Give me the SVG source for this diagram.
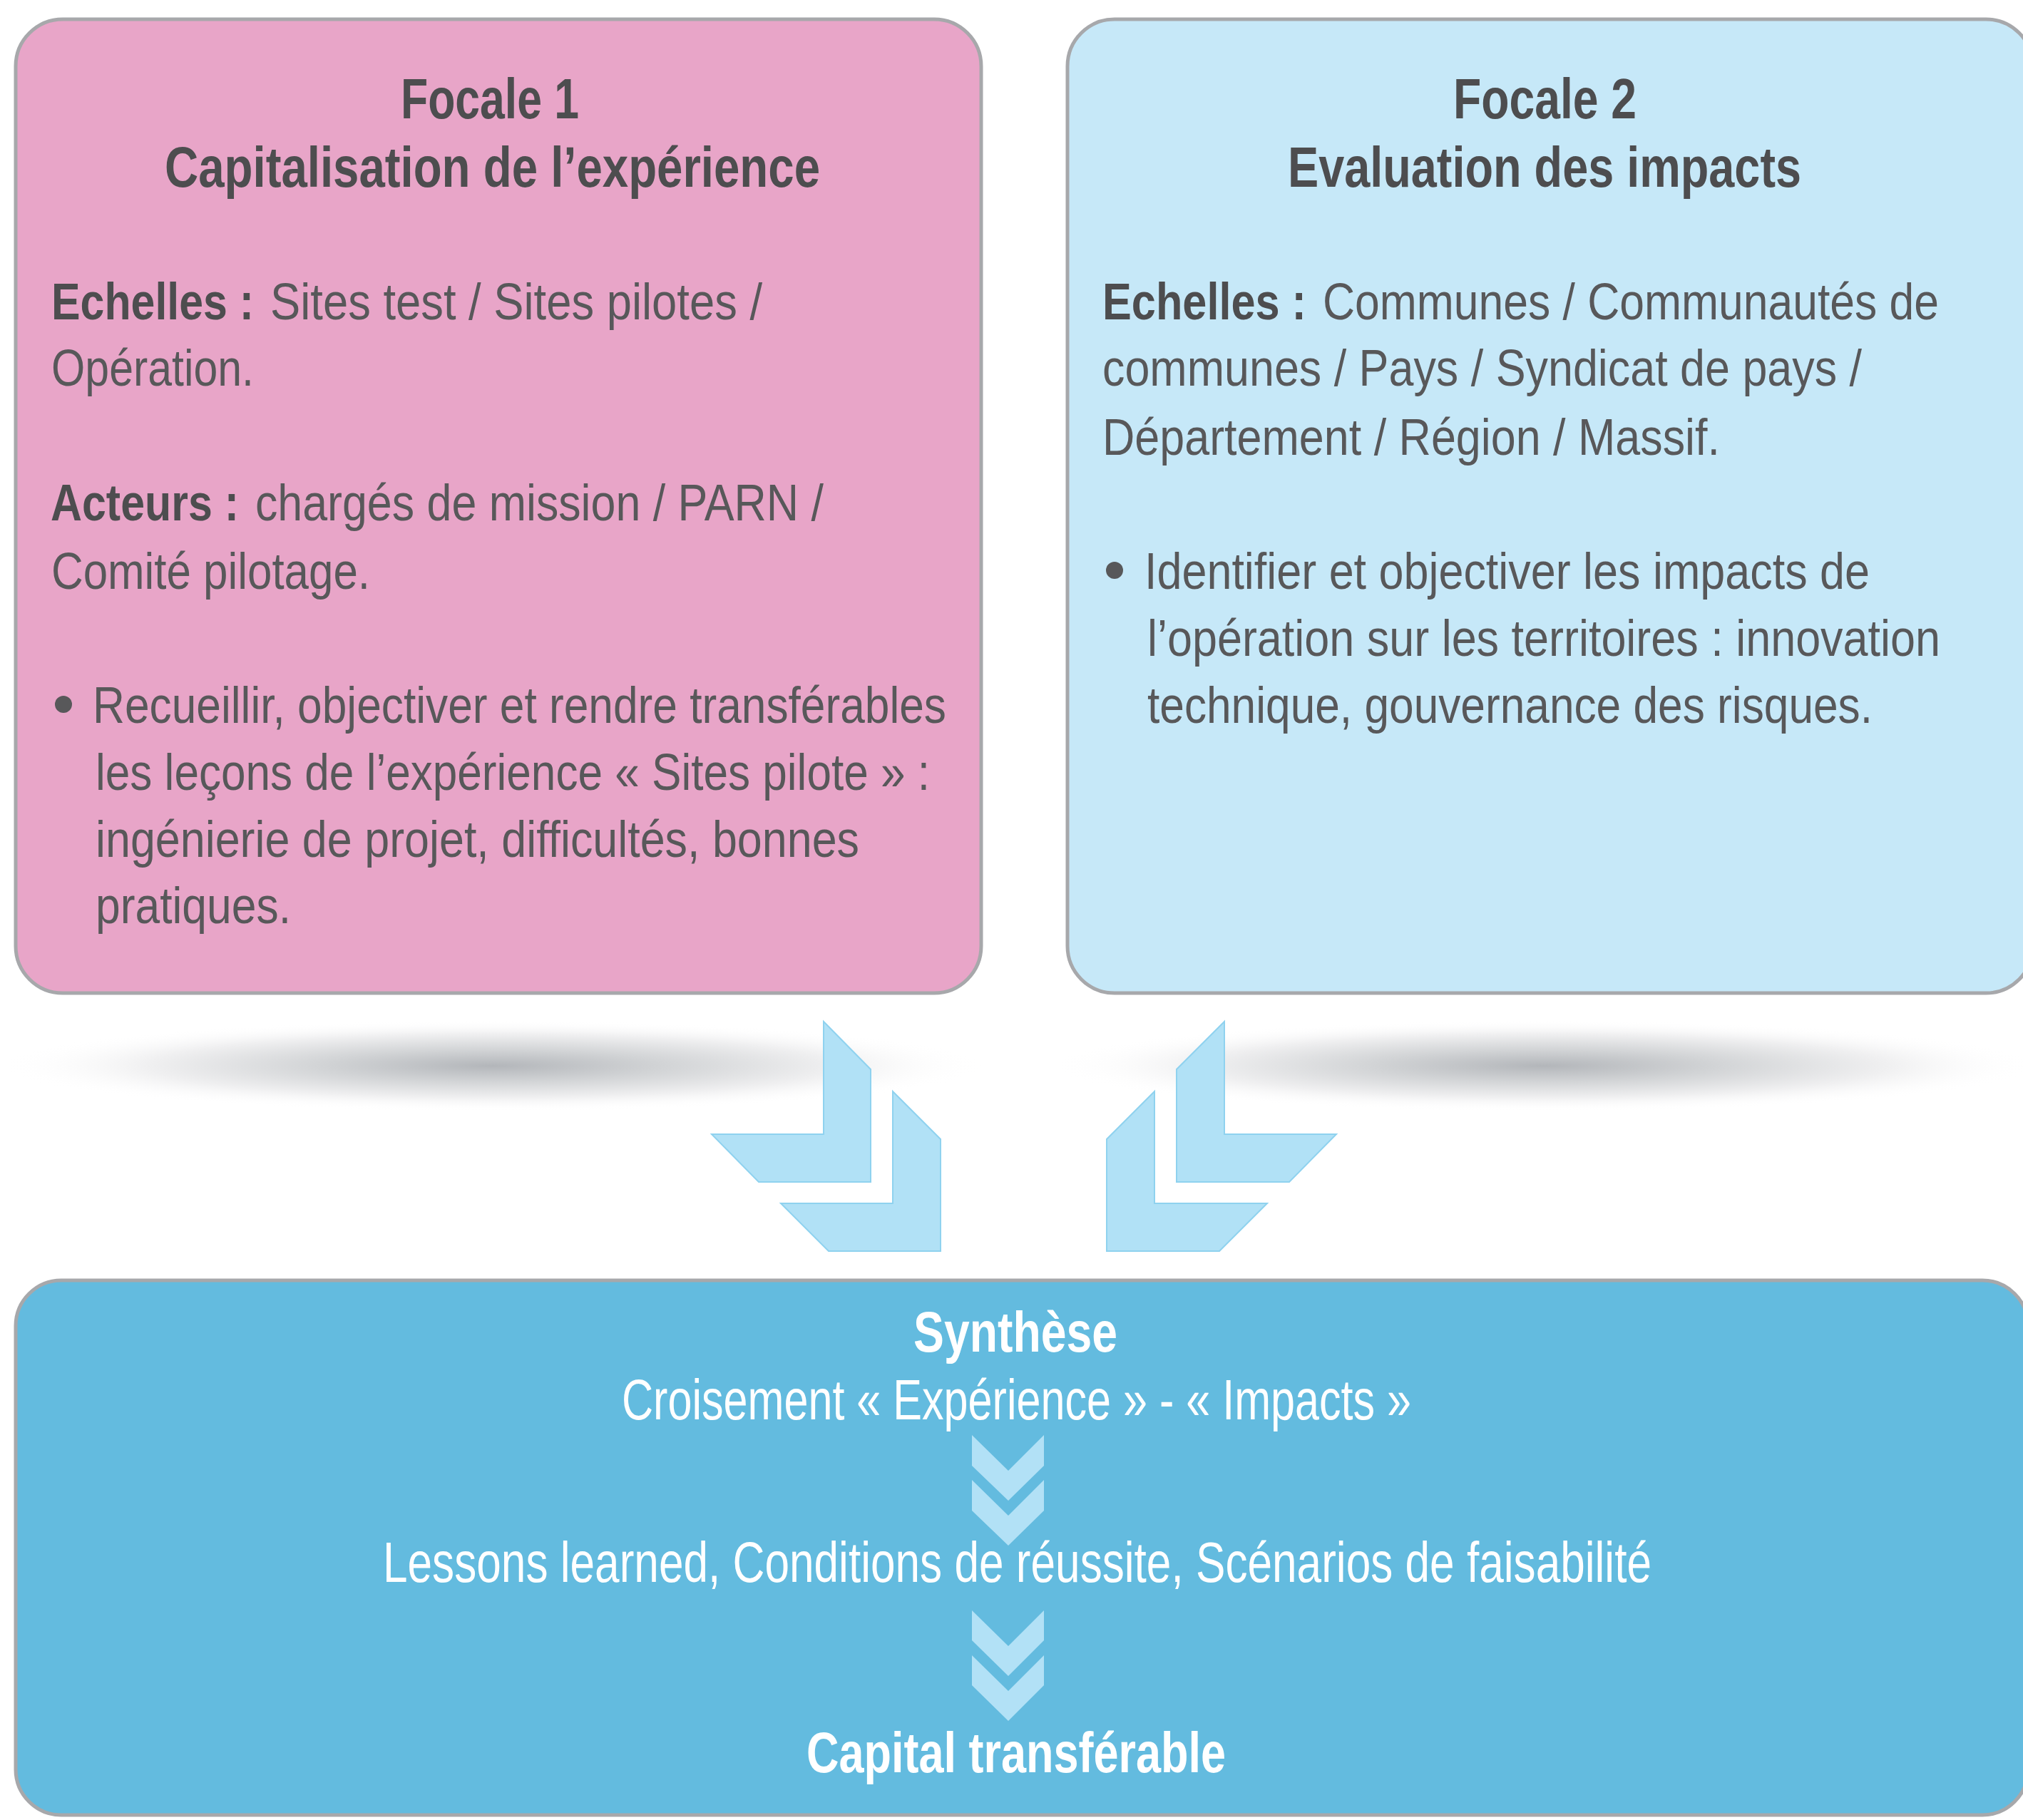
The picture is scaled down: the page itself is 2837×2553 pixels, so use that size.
<svg xmlns="http://www.w3.org/2000/svg" width="2837" height="2553" viewBox="0 0 2837 2553">
<style>
.box{stroke:#a7a8ab;stroke-width:5}
.t{font-family:"Liberation Sans Narrow","Liberation Sans",Arial,sans-serif;fill:#58585a;font-size:73px}
.b{font-weight:bold;fill:#4d4d4f}
.h{font-size:80px}
.w{fill:#ffffff;font-size:80px}
.arrow{fill:#b1e1f6;stroke:#8fd2ef;stroke-width:2}
.chev{fill:#b2e1f6}
</style>
<defs>
<radialGradient id="sh" cx="0.5" cy="0.5" r="0.5">
<stop offset="0" stop-color="#b3b6ba"/>
<stop offset="0.35" stop-color="#d2d4d6"/>
<stop offset="0.7" stop-color="#f0f0f1"/>
<stop offset="1" stop-color="#ffffff" stop-opacity="0"/>
</radialGradient>
</defs>
<rect width="2837" height="2553" fill="#ffffff"/>
<g id="shadows">
<ellipse cx="690" cy="1495" rx="690" ry="64" fill="url(#sh)"/>
<ellipse cx="2165" cy="1495" rx="690" ry="64" fill="url(#sh)"/>
</g>
<g id="focale1">
<rect class="box" x="22" y="27" width="1354" height="1366" rx="66" fill="#e8a5c8"/>
<text class="t b h" x="562" y="166" textLength="250" lengthAdjust="spacingAndGlyphs">Focale 1</text>
<text class="t b h" x="231" y="262" textLength="919" lengthAdjust="spacingAndGlyphs">Capitalisation de l’expérience</text>
<text class="t b" x="72" y="448" textLength="284" lengthAdjust="spacingAndGlyphs">Echelles :</text>
<text class="t" x="379" y="448" textLength="690" lengthAdjust="spacingAndGlyphs">Sites test / Sites pilotes /</text>
<text class="t" x="72" y="541" textLength="284" lengthAdjust="spacingAndGlyphs">Opération.</text>
<text class="t b" x="71" y="730" textLength="264" lengthAdjust="spacingAndGlyphs">Acteurs :</text>
<text class="t" x="358" y="730" textLength="797" lengthAdjust="spacingAndGlyphs">chargés de mission / PARN /</text>
<text class="t" x="72" y="826" textLength="447" lengthAdjust="spacingAndGlyphs">Comité pilotage.</text>
<circle cx="89" cy="988" r="12" fill="#58585a"/>
<text class="t" x="130" y="1014" textLength="1197" lengthAdjust="spacingAndGlyphs">Recueillir, objectiver et rendre transférables</text>
<text class="t" x="134" y="1108" textLength="1170" lengthAdjust="spacingAndGlyphs">les leçons de l’expérience « Sites pilote » :</text>
<text class="t" x="134" y="1202" textLength="1071" lengthAdjust="spacingAndGlyphs">ingénierie de projet, difficultés, bonnes</text>
<text class="t" x="134" y="1295" textLength="274" lengthAdjust="spacingAndGlyphs">pratiques.</text>
</g>
<g id="focale2">
<rect class="box" x="1497" y="27" width="1354" height="1366" rx="66" fill="#c6e8f8"/>
<text class="t b h" x="2038" y="166" textLength="257" lengthAdjust="spacingAndGlyphs">Focale 2</text>
<text class="t b h" x="1806" y="262" textLength="720" lengthAdjust="spacingAndGlyphs">Evaluation des impacts</text>
<text class="t b" x="1546" y="448" textLength="286" lengthAdjust="spacingAndGlyphs">Echelles :</text>
<text class="t" x="1855" y="448" textLength="864" lengthAdjust="spacingAndGlyphs">Communes / Communautés de</text>
<text class="t" x="1546" y="541" textLength="1065" lengthAdjust="spacingAndGlyphs">communes / Pays / Syndicat de pays /</text>
<text class="t" x="1546" y="638" textLength="866" lengthAdjust="spacingAndGlyphs">Département / Région / Massif.</text>
<circle cx="1563" cy="800" r="12" fill="#58585a"/>
<text class="t" x="1605" y="826" textLength="1017" lengthAdjust="spacingAndGlyphs">Identifier et objectiver les impacts de</text>
<text class="t" x="1609" y="920" textLength="1112" lengthAdjust="spacingAndGlyphs">l’opération sur les territoires : innovation</text>
<text class="t" x="1609" y="1014" textLength="1017" lengthAdjust="spacingAndGlyphs">technique, gouvernance des risques.</text>
</g>
<g id="connectors">
<polygon class="arrow" points="1155,1433 1221,1500 1221,1658 1064,1658 998,1591 1155,1591"/>
<polygon class="arrow" points="1252,1531 1319,1598 1319,1755 1162,1755 1095,1688 1252,1688"/>
<polygon class="arrow" points="1717,1433 1650,1500 1650,1658 1808,1658 1874,1591 1717,1591"/>
<polygon class="arrow" points="1619,1531 1552,1598 1552,1755 1710,1755 1777,1688 1619,1688"/>
</g>
<g id="synthese">
<rect class="box" x="22" y="1796" width="2822" height="750" rx="64" fill="#63bbdf"/>
<polygon class="chev" points="1363,2013 1414,2063 1464,2013 1464,2056 1414,2105 1363,2056"/>
<polygon class="chev" points="1363,2076 1414,2126 1464,2076 1464,2119 1414,2168 1363,2119"/>
<polygon class="chev" points="1363,2259 1414,2309 1464,2259 1464,2301 1414,2351 1363,2301"/>
<polygon class="chev" points="1363,2322 1414,2372 1464,2322 1464,2364 1414,2414 1363,2364"/>
<text class="t w" font-weight="bold" x="1281" y="1896" textLength="286" lengthAdjust="spacingAndGlyphs">Synthèse</text>
<text class="t w" x="872" y="1991" textLength="1107" lengthAdjust="spacingAndGlyphs">Croisement « Expérience » - « Impacts »</text>
<text class="t w" x="537" y="2219" textLength="1779" lengthAdjust="spacingAndGlyphs">Lessons learned, Conditions de réussite, Scénarios de faisabilité</text>
<text class="t w" font-weight="bold" x="1131" y="2486" textLength="588" lengthAdjust="spacingAndGlyphs">Capital transférable</text>
</g>
</svg>
